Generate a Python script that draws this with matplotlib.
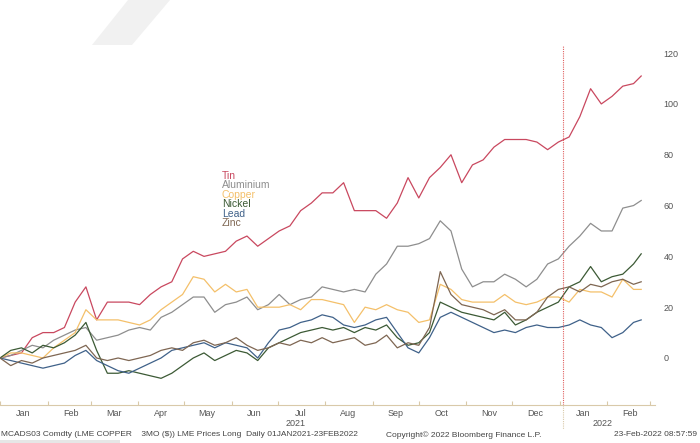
import numpy as np
import pandas as pd
import matplotlib
matplotlib.use("Agg")
import matplotlib.pyplot as plt
import matplotlib.dates as mdates
from matplotlib.patches import Polygon, Rectangle

plt.rcParams["font.family"] = ["Liberation Sans", "DejaVu Sans"]

# weekly % change since 01 Jan 2021, last point is 23 Feb 2022
dates = list(pd.date_range("2021-01-01", periods=60, freq="7D")) + [pd.Timestamp("2022-02-23")]

tin = [0, 1, 2, 8, 10, 10, 12, 22, 28, 15, 22, 22, 22, 21, 25, 28, 30, 39, 42, 40,
       41, 42, 46, 48, 44, 47, 50, 52, 58, 61, 65, 65, 69, 58, 58, 58, 55, 61, 71, 63,
       71, 75, 80, 69, 76, 78, 83, 86, 86, 86, 85, 82, 85, 87, 95, 106, 100, 103, 107, 108,
       111]
aluminium = [0, 1, 3, 5, 4, 7, 9, 11, 12, 7, 8, 9, 11, 12, 11, 16, 18, 21, 24, 24,
             18, 21, 22, 24, 19, 21, 25, 21, 23, 24, 28, 27, 26, 27, 26, 33, 37, 44, 44, 45,
             47, 54, 50, 35, 28, 30, 30, 33, 31, 28, 31, 37, 39, 44, 48, 53, 50, 50, 59, 60,
             62]
copper = [0, 2, 2, 1, 0, 4, 7, 10, 19, 15, 15, 15, 14, 13, 15, 19, 22, 25, 32, 31,
          26, 29, 26, 27, 20, 20, 20, 21, 19, 23, 23, 22, 21, 14, 20, 19, 21, 19, 18, 14,
          15, 29, 27, 23, 22, 22, 22, 25, 22, 21, 22, 24, 24, 22, 27, 26, 26, 24, 31, 27,
          27]
nickel = [0, 3, 4, 2, 5, 4, 6, 9, 14, 3, -6, -6, -5, -6, -7, -8, -6, -3, 0, 2,
          -1, 1, 3, 2, -1, 4, 6, 8, 10, 11, 12, 11, 12, 10, 12, 11, 13, 8, 5, 6,
          10, 22, 20, 18, 17, 16, 15, 18, 13, 15, 18, 20, 22, 28, 30, 36, 30, 32, 33, 37,
          41]
lead = [0, -1, -2, -3, -4, -3, -2, 1, 3, -1, -3, -5, -6, -4, -2, 0, 3, 4, 5, 6,
        4, 6, 5, 4, 0, 6, 11, 12, 14, 15, 17, 16, 13, 12, 13, 15, 16, 10, 4, 2,
        8, 16, 18, 16, 14, 12, 10, 11, 10, 12, 13, 12, 12, 13, 15, 13, 12, 8, 10, 14,
        15]
zinc = [0, -3, -1, -2, 0, 1, 2, 3, 5, 0, -1, 0, -1, 0, 1, 3, 4, 3, 6, 7,
        5, 6, 8, 5, 3, 4, 6, 5, 7, 6, 8, 6, 7, 8, 5, 6, 9, 4, 6, 5,
        12, 34, 25, 21, 20, 19, 17, 19, 15, 15, 18, 24, 27, 28, 26, 29, 28, 30, 31, 29,
        30]

names = ["Tin", "Aluminium", "Copper", "Nickel", "Lead", "Zinc"]
series = [tin, aluminium, copper, nickel, lead, zinc]
colors = ["#c9485f", "#8e8e8e", "#f4c06a", "#3c5a35", "#3f6189", "#7e6652"]

month_labels = ["Jan", "Feb", "Mar", "Apr", "May", "Jun", "Jul", "Aug", "Sep",
                "Oct", "Nov", "Dec", "Jan", "Feb"]
y_ticks = [0, 20, 40, 60, 80, 100, 120]

W, H = 700, 443
fig = plt.figure(figsize=(7, 4.43), dpi=100)
fig.patch.set_facecolor("white")

# faint diagonal band at the top left
fig.patches.append(Polygon([(128 / W, 1), (170 / W, 1), (132 / W, 1 - 45 / H), (92 / W, 1 - 45 / H)],
                           closed=True, transform=fig.transFigure, facecolor="#f1f1f1",
                           edgecolor="none", zorder=0))
fig.patches.append(Rectangle((0, 0), 120 / W, 3 / H, transform=fig.transFigure,
                             facecolor="#e6e6e6", edgecolor="none"))

ax = fig.add_axes([0, (H - 405) / H, 655 / W, 360 / H])
ax.set_facecolor("none")

for vals, c in zip(series, colors):
    ax.plot(dates, vals, color=c, lw=0.9)

t0 = mdates.date2num(pd.Timestamp("2021-01-01"))
ax.set_xlim(t0 + 3.9, t0 + 427)
ax.set_ylim(-18.5, 123.2)

ax.axvline(pd.Timestamp("2022-01-03"), color="#e06060", lw=0.8, ls=(0, (1, 1)))

for s in ["top", "left", "right"]:
    ax.spines[s].set_visible(False)
ax.spines["bottom"].set_color("#d9c9a9")
ax.spines["bottom"].set_linewidth(0.8)

ax.yaxis.tick_right()
ax.set_yticks(y_ticks)
ax.tick_params(axis="y", length=0, pad=6, labelsize=6.5, labelcolor="#555555")

month_starts = pd.date_range("2021-01-01", "2022-03-01", freq="MS")
ax.set_xticks(month_starts)
ax.set_xticklabels([])
ax.tick_params(axis="x", which="major", length=3, color="#d9c9a9", direction="in")
mids = [m + pd.Timedelta(days=15) for m in month_starts[:len(month_labels)]]
ax.set_xticks(mids, minor=True)
ax.set_xticklabels(month_labels, minor=True)
ax.tick_params(axis="x", which="minor", length=0, pad=3, labelsize=6.5, labelcolor="#555555")

# year labels and separator
fig.text(296 / W, 1 - 423 / H, "2021", ha="center", va="center", fontsize=6.5, color="#555555")
fig.text(603 / W, 1 - 423 / H, "2022", ha="center", va="center", fontsize=6.5, color="#555555")
ax.plot([pd.Timestamp("2022-01-03")] * 2, [-18.5, -28], color="#d9c9a9", lw=0.8,
        ls=(0, (1, 1)), clip_on=False)

# legend as coloured labels
for i, (n, c) in enumerate(zip(names, colors)):
    fig.text(222 / W, 1 - (176 + 9.4 * i) / H, n, color=c, fontsize=7.5,
             ha="left", va="center")

fig.text(1 / W, 1 - 435 / H, "MCADS03 Comdty (LME COPPER    3MO ($)) LME Prices Long  Daily 01JAN2021-23FEB2022",
         fontsize=6, color="#444444", ha="left", va="center")
fig.text(386 / W, 1 - 435 / H, "Copyright\u00a9 2022 Bloomberg Finance L.P.",
         fontsize=6, color="#444444", ha="left", va="center")
fig.text(697 / W, 1 - 435 / H, "23-Feb-2022 08:57:59",
         fontsize=6, color="#444444", ha="right", va="center")

fig.savefig("out.png", dpi=100)
